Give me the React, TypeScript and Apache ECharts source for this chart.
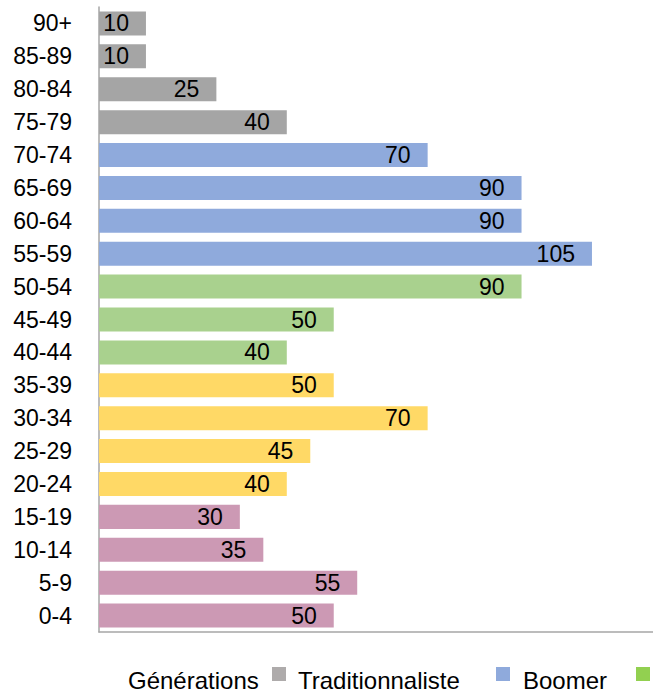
import React, { useEffect, useRef } from "react";
import * as echarts from "echarts";

const categories = ["0-4", "5-9", "10-14", "15-19", "20-24", "25-29", "30-34", "35-39", "40-44", "45-49", "50-54", "55-59", "60-64", "65-69", "70-74", "75-79", "80-84", "85-89", "90+"];
const values = [50, 55, 35, 30, 40, 45, 70, 50, 40, 50, 90, 105, 90, 90, 70, 40, 25, 10, 10];
const generationOfCategory = [
  "Génération Z", "Génération Z", "Génération Z", "Génération Z",
  "Génération Y", "Génération Y", "Génération Y", "Génération Y",
  "Génération X", "Génération X", "Génération X",
  "Boomer", "Boomer", "Boomer", "Boomer",
  "Traditionnaliste", "Traditionnaliste", "Traditionnaliste", "Traditionnaliste",
];
const generations = ["Traditionnaliste", "Boomer", "Génération X", "Génération Y", "Génération Z"];
const barColors = ["#A5A5A5", "#8FAADC", "#A9D18E", "#FFD966", "#CC99B4"];
const legendTitle = "Générations";
// visible legend entries (the rest of the legend lies beyond the picture's right edge)
const legendLabels = ["Traditionnaliste", "Boomer", ""];
const legendColors = ["#AEABAB", "#8FAADC", "#92D050"];

const FONT = "'Liberation Sans', Arial, sans-serif";

export default function App() {
  const ref = useRef<HTMLDivElement>(null);
  useEffect(() => {
    if (!ref.current) return;
    const chart = echarts.init(ref.current, undefined, { renderer: "svg" });
    const series = generations.map((g, gi) => ({
      name: g,
      type: "bar",
      stack: "all",
      barCategoryGap: "27%",
      itemStyle: { color: barColors[gi] },
      label: {
        show: true,
        position: "insideRight",
        distance: 17,
        color: "#000",
        fontSize: 23,
        fontFamily: FONT,
      },
      data: values.map((v, i) => (generationOfCategory[i] === g ? v : "-")),
    }));

    const swatchX = [272, 496, 636];
    const textX = [298, 523, 660];
    const legendGraphics: any[] = [
      {
        type: "text",
        x: 128,
        y: 680,
        style: { text: legendTitle, fill: "#000", fontSize: 24, fontFamily: FONT, verticalAlign: "middle" },
      },
    ];
    legendLabels.forEach((lab, i) => {
      legendGraphics.push({
        type: "rect",
        shape: { x: swatchX[i], y: 667, width: 14, height: 14 },
        style: { fill: legendColors[i] },
      });
      if (lab) {
        legendGraphics.push({
          type: "text",
          x: textX[i],
          y: 680,
          style: { text: lab, fill: "#000", fontSize: 24, fontFamily: FONT, verticalAlign: "middle" },
        });
      }
    });

    chart.setOption({
      animation: false,
      grid: { left: 99, top: 7, right: 0, height: 625, containLabel: false },
      xAxis: {
        type: "value",
        min: 0,
        max: 118,
        axisLine: { show: true, lineStyle: { color: "#A6A6A6", width: 1.5 } },
        axisTick: { show: false },
        axisLabel: { show: false },
        splitLine: { show: false },
      },
      yAxis: {
        type: "category",
        data: categories,
        axisLine: { show: true, lineStyle: { color: "#A6A6A6", width: 1.5 } },
        axisTick: { show: false },
        axisLabel: { color: "#000", fontSize: 23, fontFamily: FONT, margin: 27 },
      },
      legend: { show: false },
      graphic: legendGraphics,
      series,
    });
    return () => chart.dispose();
  }, []);
  return <div ref={ref} style={{ position: "absolute", left: 0, top: 0, width: 653, height: 693 }} />;
}
